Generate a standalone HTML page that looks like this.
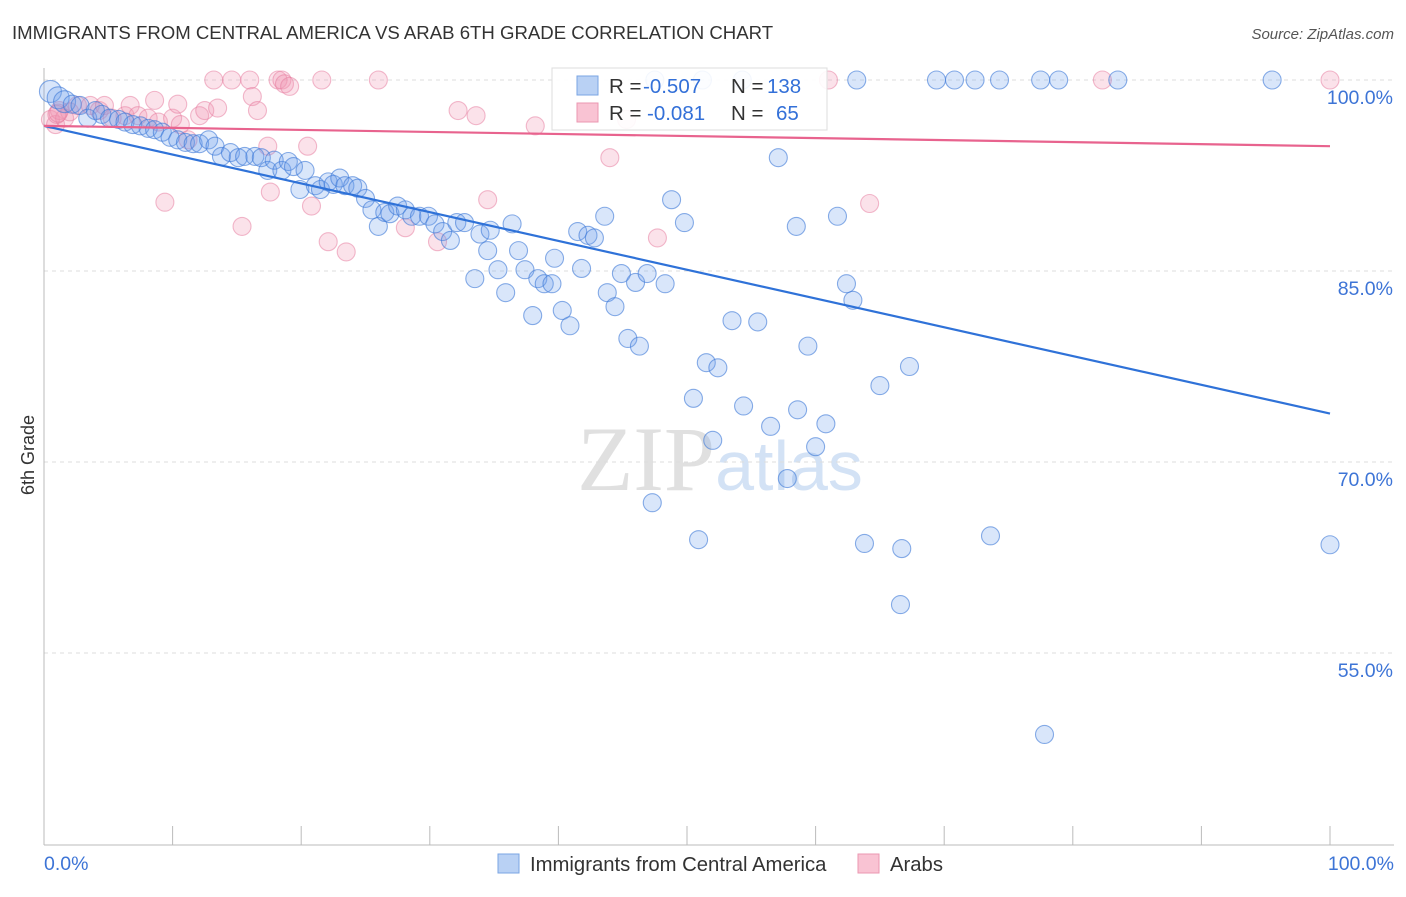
<!DOCTYPE html>
<html><head><meta charset="utf-8"><style>
body{margin:0;background:#fff;font-family:"Liberation Sans",sans-serif}
svg text{font-family:"Liberation Sans",sans-serif}
</style></head><body>
<svg id="chart" width="1406" height="892" viewBox="0 0 1406 892" xmlns="http://www.w3.org/2000/svg">
<text x="12" y="39" font-size="18.6" fill="#333">IMMIGRANTS FROM CENTRAL AMERICA VS ARAB 6TH GRADE CORRELATION CHART</text>
<text x="1394" y="39" font-size="15" fill="#555" text-anchor="end" font-style="italic">Source: ZipAtlas.com</text>
<text x="720" y="490" font-size="92" text-anchor="middle"><tspan fill="#e0e0e0" font-family="Liberation Serif">ZIP</tspan><tspan fill="#d3e2f5" font-size="70">atlas</tspan></text>
<g id="grid"></g>
<g id="axes"></g>
<g id="pts"></g>
<g id="lines"></g>
<text transform="translate(34,455) rotate(-90)" font-size="18" fill="#333" text-anchor="middle">6th Grade</text>
<g>
<rect x="552" y="68" width="275" height="62" fill="#fff" fill-opacity="0.9" stroke="#ddd"/>
<rect x="577" y="76" width="21" height="19" fill="#b9d1f4" stroke="#7aa5e3"/>
<rect x="577" y="103" width="21" height="19" fill="#f9c3d3" stroke="#eb97b1"/>
<text x="609" y="93" font-size="20.5" fill="#333">R =</text>
<text x="643" y="93" font-size="20.5" fill="#3370d8">-0.507</text>
<text x="731" y="93" font-size="20.5" fill="#333">N =</text>
<text x="767" y="93" font-size="20.5" fill="#3370d8">138</text>
<text x="609" y="120" font-size="20.5" fill="#333">R =</text>
<text x="647" y="120" font-size="20.5" fill="#3370d8">-0.081</text>
<text x="731" y="120" font-size="20.5" fill="#333">N =</text>
<text x="776" y="120" font-size="20.5" fill="#3370d8">65</text>
</g>
<g>
<rect x="498" y="854" width="21" height="19" fill="#b9d1f4" stroke="#7aa5e3"/>
<text x="530" y="871" font-size="20.3" fill="#333">Immigrants from Central America</text>
<rect x="858" y="854" width="21" height="19" fill="#f9c3d3" stroke="#eb97b1"/>
<text x="890" y="871" font-size="20.3" fill="#333">Arabs</text>
</g>
</svg>
<script>
const blueX=[0.5,1.1,1.6,2.2,2.8,3.4,4.0,4.5,5.1,5.8,6.3,6.9,7.5,8.1,8.6,9.2,9.8,10.4,11.0,11.6,12.1,12.8,13.3,13.8,14.5,15.1,15.6,16.4,16.9,17.4,17.9,18.5,19.0,19.4,19.9,20.3,21.1,21.5,22.1,22.5,23.0,23.4,24.0,24.4,25.0,25.5,26.0,26.5,26.9,27.5,28.1,28.6,29.2,29.9,30.4,31.0,31.6,32.1,32.7,33.5,33.9,34.7,34.5,35.3,35.9,36.4,36.9,37.4,38.0,38.4,38.9,39.5,39.7,40.3,40.9,41.5,41.8,42.3,42.8,43.6,43.8,44.4,44.9,45.4,46.0,46.3,46.9,47.3,48.3,48.8,49.8,50.5,50.9,51.5,52.0,52.4,53.5,54.4,55.5,56.5,57.1,57.8,58.5,58.6,59.4,60.0,60.8,61.7,62.4,62.9,63.8,65.0,66.6,66.7,67.3,73.6,77.8,100,47.5,51.2,54.3,63.2,69.4,70.8,72.4,74.3,77.5,78.9,83.5,95.5];
const blueY=[99.1,98.6,98.3,98.1,98.0,97.0,97.6,97.3,97.0,96.9,96.7,96.5,96.4,96.2,96.1,95.9,95.5,95.3,95.1,95.0,95.0,95.3,94.8,94.0,94.3,93.9,94.0,94.0,93.9,92.9,93.7,92.9,93.6,93.2,91.4,92.9,91.7,91.4,92.0,91.8,92.3,91.7,91.7,91.5,90.7,89.8,88.5,89.6,89.5,90.1,89.8,89.3,89.3,89.3,88.7,88.1,87.4,88.8,88.8,84.4,87.9,88.2,86.6,85.1,83.3,88.7,86.6,85.1,81.5,84.4,84.0,84.0,86.0,81.9,80.7,88.1,85.2,87.8,87.6,89.3,83.3,82.2,84.8,79.7,84.1,79.1,84.8,66.8,84.0,90.6,88.8,75.0,63.9,77.8,71.7,77.4,81.1,74.4,81.0,72.8,93.9,68.7,88.5,74.1,79.1,71.2,73.0,89.3,84.0,82.7,63.6,76.0,58.8,63.2,77.5,64.2,48.6,63.5,100,100,100,100,100,100,100,100,100,100,100,100];
const pinkX=[0.5,0.9,1.2,1.6,2.0,2.6,3.6,4.3,4.7,5.3,6.3,6.7,7.3,8.1,8.6,8.9,9.4,10.0,10.4,10.6,11.2,12.1,12.5,13.2,13.5,14.6,15.4,16.0,16.2,16.6,17.4,17.6,18.2,18.5,18.7,19.1,20.5,20.8,21.6,22.1,23.5,26.0,28.1,30.6,32.2,33.6,34.5,38.2,44.0,45.3,47.7,61.0,64.2,82.3,100,1.0,1.1];
const pinkY=[96.9,96.5,97.6,97.0,97.5,98.0,98.0,97.6,98.0,97.0,97.2,98.0,97.2,97.0,98.4,96.7,90.4,97.0,98.1,96.5,95.3,97.2,97.6,100,97.8,100,88.5,100,98.7,97.6,94.8,91.2,100,100,99.7,99.5,94.8,90.1,100,87.3,86.5,100,88.4,87.3,97.6,97.2,90.6,96.4,93.9,96.9,87.6,100,90.3,100,100,97.3,97.4];
const yTicks=[100,85,70,55];
const yTickLabels=["100.0%","85.0%","70.0%","55.0%"];
const xTicks=[0,10,20,30,40,50,60,70,80,90,100];
const blueTrend=[96.4,73.8];
const pinkTrend=[96.4,94.8];
const NS="http://www.w3.org/2000/svg";
const X=v=>44+v*12.86, Y=v=>80+(100-v)*12.733;
function mk(tag,attrs,parent){const e=document.createElementNS(NS,tag);for(const k in attrs)e.setAttribute(k,attrs[k]);parent.appendChild(e);return e;}
const grid=document.getElementById('grid'),axes=document.getElementById('axes'),pts=document.getElementById('pts'),lines=document.getElementById('lines');
yTicks.forEach((t,i)=>{
 const l=mk('line',{x1:44,x2:1394,y1:Y(t),y2:Y(t),stroke:'#ddd','stroke-dasharray':'4,4'},grid);
 
 
 const tx=mk('text',{x:1393,y:Y(t)+24,'font-size':19.5,fill:'#3d74d6','text-anchor':'end'},axes);
 tx.textContent=yTickLabels[i];
 
 
});
const ax=mk('line',{x1:44,x2:1394,y1:845,y2:845,stroke:'#bbb'},axes);


const ay=mk('line',{x1:44,x2:44,y1:68,y2:845,stroke:'#bbb'},axes);


xTicks.forEach(t=>{const l=mk('line',{x1:X(t),x2:X(t),y1:826,y2:845,stroke:'#bbb'},axes);
 
 });
[[0,"0.0%","start",44],[100,"100.0%","end",1394]].forEach(a=>{const t=mk('text',{x:a[3],y:870,'font-size':19.5,fill:'#3d74d6','text-anchor':a[2]},axes);t.textContent=a[1];
 
 });
pinkX.forEach((x,i)=>{const c=mk('circle',{cx:X(x),cy:Y(pinkY[i]),r:9,fill:'rgba(242,150,180,0.28)',stroke:'rgba(230,120,155,0.5)','stroke-width':1.1},pts);
 
 });
blueX.forEach((x,i)=>{const c=mk('circle',{cx:X(x),cy:Y(blueY[i]),r:i<3?11:9,fill:'rgba(110,160,235,0.26)',stroke:'rgba(60,120,215,0.6)','stroke-width':1.1},pts);
 
 });
const bl=mk('line',{x1:X(0),y1:Y(blueTrend[0]),x2:X(100),y2:Y(blueTrend[1]),stroke:'#2f72d8','stroke-width':2.2},lines);


const pl=mk('line',{x1:X(0),y1:Y(pinkTrend[0]),x2:X(100),y2:Y(pinkTrend[1]),stroke:'#e8638e','stroke-width':2.2},lines);


</script>
</body></html>
